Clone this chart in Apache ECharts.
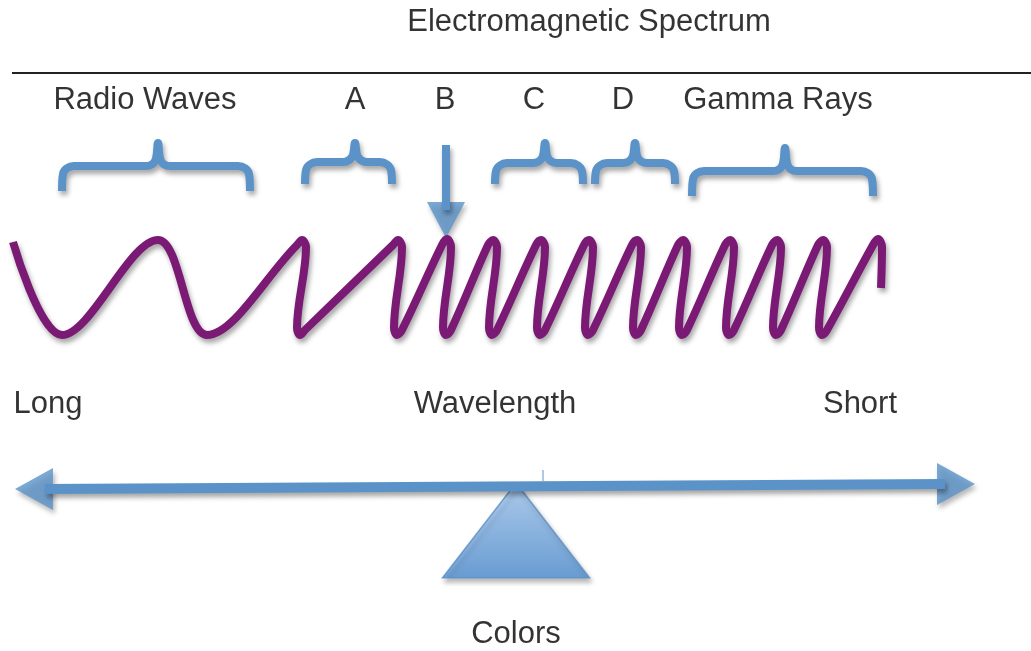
<!DOCTYPE html>
<html>
<head>
<meta charset="utf-8">
<script src="https://cdn.jsdelivr.net/npm/echarts@6/dist/echarts.min.js"></script>
<style>
html,body{margin:0;padding:0;background:#fff;}
#em{width:1031px;height:651px;}
</style>
</head>
<body>
<div id="em"></div>
<script>
// wave: turning points and shoulders
var waveX = [13, 62, 158, 207,
	297, 302, 306, 297, 300, 305,
	393, 398, 402, 394, 397, 402,
	442, 447, 451, 443, 446, 451,
	488, 493, 497, 489, 492, 497,
	536, 541, 545, 537, 540, 545,
	584, 589, 593, 585, 588, 593,
	632, 637, 641, 633, 636, 641,
	678, 683, 687, 679, 682, 687,
	725, 730, 734, 726, 729, 734,
	772, 777, 781, 773, 776, 781,
	818, 823, 827, 819, 822, 827,
	873, 878, 882, 881];
var waveY = [242, 335, 240, 335,
	245, 240, 247, 328, 335, 330,
	245, 240, 247, 328, 335, 330,
	245, 239, 247, 328, 335, 330,
	245, 240, 247, 328, 335, 330,
	245, 240, 247, 328, 335, 330,
	245, 240, 247, 328, 335, 330,
	245, 240, 247, 328, 335, 330,
	245, 240, 247, 328, 335, 330,
	245, 240, 247, 328, 335, 330,
	245, 240, 247, 328, 335, 330,
	245, 240, 247, 328, 335, 330,
	245, 239, 247, 288];

// braces over the bands
var braceLeft  = [62, 305, 495, 595, 692];
var braceRight = [250, 392, 583, 675, 873];
var braceTip   = [158, 355, 545, 635, 785];
var braceEndY  = [191, 184, 184, 184, 196];
var braceBarY  = [166, 162, 163, 163, 171];
var braceTipY  = [143, 143, 143, 143, 148];

// text
var bandNames = ['Radio Waves', 'A', 'B', 'C', 'D', 'Gamma Rays'];
var bandLabelX = [145, 355, 445, 534, 623, 778];
var scaleNames = ['Long', 'Wavelength', 'Short'];
var scaleLabelX = [48, 495, 860];

var font = 'Liberation Sans';
var blue = '#5b93c9';
var purple = '#7a1a75';
var shadow = {shadowBlur: 5, shadowColor: 'rgba(0,0,0,0.35)', shadowOffsetX: 2, shadowOffsetY: 4};

function bracePoints(i){
	var x1 = braceLeft[i], x2 = braceRight[i], xt = braceTip[i];
	var yb = braceBarY[i], ye = braceEndY[i], yt = braceTipY[i];
	var r = 12;
	return [
		[x1, ye], [x1 + 1, yb + 8], [x1 + r, yb], [xt - r, yb],
		[xt - 3, yb - 5], [xt, yt], [xt + 3, yb - 5],
		[xt + r, yb], [x2 - r, yb], [x2 - 1, yb + 8], [x2, ye]
	];
}

var waveData = [];
for(var i=0;i<waveX.length;i++){
	waveData.push([waveX[i], waveY[i]]);
}

var series = [];

// rule under the title
series.push({
	type: 'line', symbol: 'none', silent: true,
	lineStyle: {color: '#222', width: 2},
	data: [[12, 73], [1031, 73]]
});

// the wave
series.push({
	type: 'line', symbol: 'none', silent: true, smooth: 0.35,
	lineStyle: Object.assign({color: purple, width: 8, join: 'round'}, shadow),
	data: waveData
});

// braces
for(var b=0;b<braceLeft.length;b++){
	series.push({
		type: 'line', symbol: 'none', silent: true, smooth: 0.4,
		lineStyle: Object.assign({color: blue, width: 8, join: 'round'}, shadow),
		data: bracePoints(b)
	});
}

// B arrow shaft
series.push({
	type: 'line', symbol: 'none', silent: true,
	lineStyle: Object.assign({color: blue, width: 8}, shadow),
	data: [[446, 145], [446, 210]]
});

// double arrow shaft
series.push({
	type: 'line', symbol: 'none', silent: true,
	lineStyle: Object.assign({color: blue, width: 10}, shadow),
	data: [[45, 489], [945, 484]]
});

// small tick
series.push({
	type: 'line', symbol: 'none', silent: true,
	lineStyle: {color: blue, width: 1},
	data: [[543, 470], [543, 481]]
});

// arrow heads
series.push({
	type: 'scatter', silent: true, symbol: 'triangle',
	itemStyle: Object.assign({color: blue}, shadow),
	data: [
		{value: [446, 220], symbolSize: [38, 36], symbolRotate: 180},
		{value: [34, 489], symbolSize: [42, 38], symbolRotate: 90},
		{value: [956, 484], symbolSize: [42, 38], symbolRotate: -90}
	]
});

// fulcrum
series.push({
	type: 'scatter', silent: true, symbol: 'triangle',
	symbolSize: [147, 95],
	itemStyle: Object.assign({
		color: {type: 'linear', x: 0, y: 0, x2: 0, y2: 1, colorStops: [
			{offset: 0, color: '#aacff8'}, {offset: 1, color: '#5494d8'}
		]},
		borderColor: '#5a8ec6', borderWidth: 1.5
	}, shadow),
	data: [[516, 530.5]]
});

// texts
var textData = [{name: 'Electromagnetic Spectrum', value: [589, 22]}];
for(var t=0;t<bandNames.length;t++){
	textData.push({name: bandNames[t], value: [bandLabelX[t], 100]});
}
for(var s=0;s<scaleNames.length;s++){
	textData.push({name: scaleNames[s], value: [scaleLabelX[s], 404]});
}
textData.push({name: 'Colors', value: [516, 634]});

series.push({
	type: 'scatter', silent: true, symbolSize: 1,
	itemStyle: {color: 'rgba(0,0,0,0)'},
	label: {
		show: true, position: 'inside', formatter: '{b}',
		color: '#000', fontSize: 31, fontFamily: font
	},
	data: textData
});

var chart = echarts.init(document.getElementById('em'));
chart.setOption({
	animation: false,
	grid: {left: 0, right: 0, top: 0, bottom: 0},
	xAxis: {type: 'value', min: 0, max: 1031, show: false},
	yAxis: {type: 'value', min: 0, max: 651, inverse: true, show: false},
	series: series
});
</script>
</body>
</html>
